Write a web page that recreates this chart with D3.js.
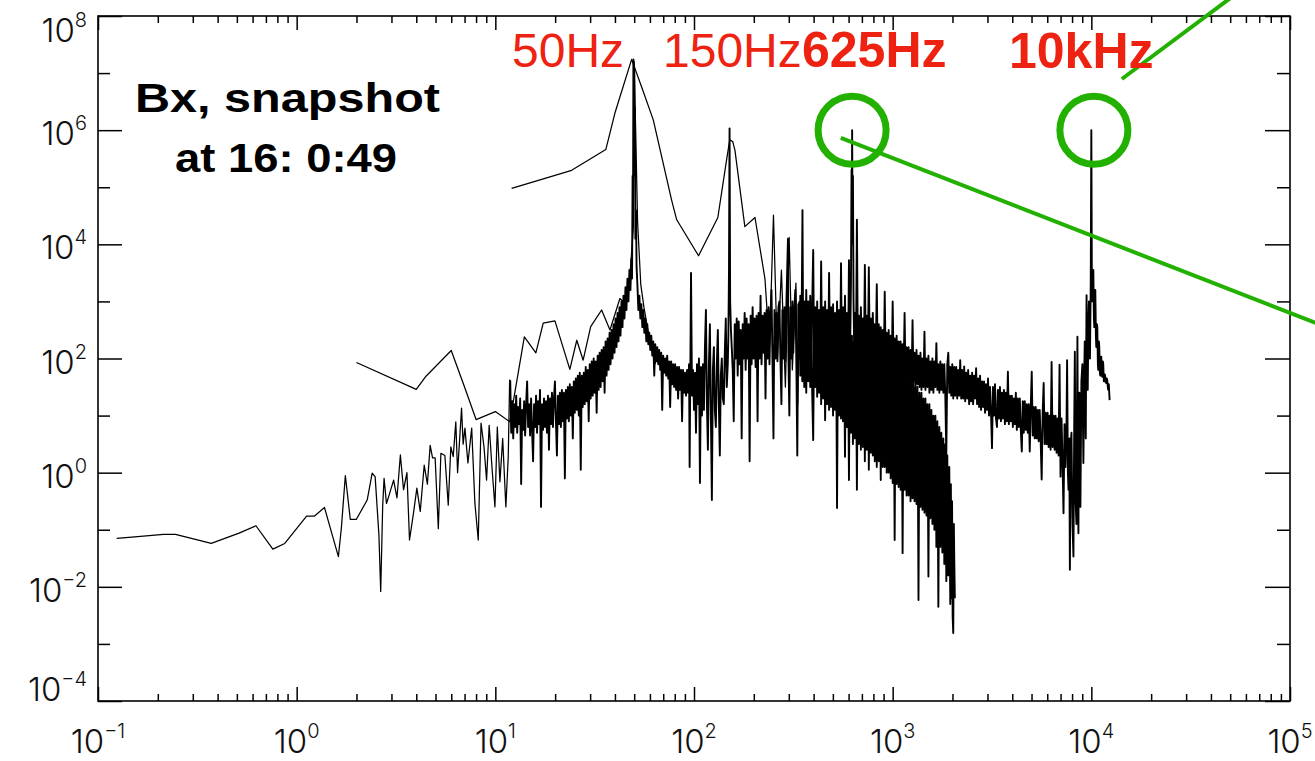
<!DOCTYPE html>
<html>
<head>
<meta charset="utf-8">
<script src="https://cdn.jsdelivr.net/npm/d3@7"></script>
<style>
  html, body { margin: 0; padding: 0; background: #fff; overflow: hidden; }
  svg { display: block; }
</style>
</head>
<body>
<svg id="chart" width="1315" height="761"></svg>
<script>
// ---- axis decades (powers of ten) ----
const freqDecades = [-1, 0, 1, 2, 3, 4, 5];
const powDecadesLabelled = [-4, -2, 0, 2, 4, 6, 8];
const powDecadesMinor = [-3, -1, 1, 3, 5, 7];

// ---- spectra, as [log10 frequency (Hz), log10 power] ----
// full-length record: 0.12 Hz resolution, up to 12.5 kHz
const spectrumFine = [
  [-0.906,-1.15],[-0.83,-1.13],[-0.67,-1.08],[-0.61,-1.08],[-0.43,-1.24],[-0.29,-1.06],[-0.205,-0.93],
  [-0.12,-1.34],[-0.06,-1.24],[0.05,-0.76],[0.09,-0.76],[0.14,-0.61],[0.21,-1.47],[0.225,-0.97],
  [0.245,-0.05],[0.27,-0.82],[0.30,-0.82],[0.355,-0.48],[0.38,-0.01],[0.395,-0.07],[0.414,-1.09],
  [0.423,-2.08],[0.433,-0.58],[0.44,-0.1],[0.452,-0.54],[0.463,-0.42],[0.488,-0.13],[0.505,-0.44],
  [0.522,0.31],[0.538,-0.3],[0.555,0.0],[0.568,-1.18],[0.588,-0.71],[0.605,-0.27],[0.622,-0.68],
  [0.642,0.13],[0.658,-0.2],[0.672,0.48],[0.684,0.26],[0.697,0.26],[0.713,-0.98],[0.726,0.34],
  [0.746,0.3],[0.763,-0.57],[0.776,0.45],[0.788,0.28],[0.801,0.89],[0.81,0.0],[0.83,1.13],
  [0.838,0.5],[0.847,0.78],[0.862,0.17],[0.881,0.78],[0.897,-0.53],[0.914,-1.18],[0.928,0.87],
  [0.943,0.45],[0.956,-0.13],[0.969,0.83],[0.984,0.05],[0.998,-0.6],[1.010,0.8],[1.023,-0.16],
  [1.037,0.6],[1.053,-0.6],[1.065,0.28],[1.072,1.62],
  // densely sampled from here on
  [1.075,1.62],[1.08,0.7],[1.085,1.25],[1.09,0.6],[1.095,1.2],[1.10,0.8],[1.105,1.35],[1.11,0.7],[1.115,1.15],[1.12,0.85],
  [1.125,1.3],[1.13,-0.2],[1.135,1.1],[1.14,0.75],[1.145,1.25],[1.15,0.65],[1.155,1.2],[1.16,1.6],[1.165,0.8],[1.17,1.2],
  [1.175,0.65],[1.18,1.3],[1.185,0.75],[1.19,0.2],[1.195,1.2],[1.20,0.8],[1.205,1.35],[1.21,0.7],[1.215,1.25],[1.22,0.85],
  [1.225,1.45],[1.23,-0.6],[1.235,1.2],[1.24,0.75],[1.245,1.3],[1.25,0.8],[1.255,1.25],[1.26,0.7],[1.265,1.35],[1.27,0.4],
  [1.275,1.3],[1.28,0.85],[1.285,1.4],[1.29,0.8],[1.295,1.3],[1.30,1.6],[1.305,0.9],[1.31,0.3],[1.315,1.35],[1.32,0.85],
  [1.325,1.4],[1.33,0.8],[1.335,1.45],[1.34,0.9],[1.345,1.4],[1.35,-0.1],[1.355,1.45],[1.36,0.95],[1.365,1.5],[1.37,0.9],
  [1.375,1.55],[1.38,1.0],[1.385,1.5],[1.39,0.6],[1.395,1.6],[1.40,1.05],[1.405,1.65],[1.41,1.1],[1.415,1.7],[1.42,1.0],
  [1.425,1.75],[1.43,0.05],[1.435,1.7],[1.44,1.15],[1.445,1.75],[1.45,1.2],[1.455,1.85],[1.46,1.25],[1.465,1.8],[1.47,0.9],
  [1.475,1.9],[1.48,1.3],[1.485,1.95],[1.49,1.35],[1.495,2.0],[1.50,1.4],[1.505,1.95],[1.51,1.05],[1.515,2.05],[1.52,1.45],
  [1.525,2.1],[1.53,1.5],[1.535,2.15],[1.54,1.6],[1.545,2.2],[1.55,1.4],[1.555,2.3],[1.56,1.7],[1.565,2.35],[1.57,1.8],
  [1.575,2.45],[1.58,1.9],[1.585,2.5],[1.59,2.0],[1.595,2.6],[1.60,2.1],[1.605,2.7],[1.61,2.2],[1.615,2.8],[1.62,2.3],
  [1.625,2.9],[1.63,2.4],[1.635,3.0],[1.64,2.55],[1.645,3.1],[1.65,2.7],[1.655,3.25],[1.66,2.85],[1.665,3.4],[1.67,3.0],
  [1.675,3.55],[1.68,3.2],[1.685,3.75],
  [1.688,3.4],[1.691,5.2],[1.693,4.3],[1.695,7.24],[1.697,5.8],[1.699,7.1],[1.701,5.2],[1.703,6.4],[1.705,4.1],[1.708,4.6],[1.711,3.6],
  [1.715,3.3],[1.72,2.85],[1.725,3.1],[1.73,2.7],[1.735,2.95],[1.74,2.55],[1.745,2.85],[1.75,2.45],[1.755,2.7],[1.76,2.3],
  [1.765,2.6],[1.77,2.25],[1.775,2.45],[1.78,2.15],[1.785,2.4],[1.79,2.05],[1.795,2.3],[1.80,1.7],[1.805,2.25],[1.81,1.95],
  [1.815,2.2],[1.82,1.9],[1.825,2.15],[1.83,1.8],[1.835,2.1],[1.84,1.1],[1.845,2.05],[1.85,1.75],[1.855,2.0],[1.86,1.7],
  [1.865,2.05],[1.87,1.65],[1.875,1.95],[1.88,1.15],[1.885,1.95],[1.89,1.55],[1.895,1.9],[1.90,1.5],[1.905,1.9],[1.91,1.45],
  [1.915,1.85],[1.92,1.3],[1.925,1.85],[1.93,1.45],[1.935,1.8],[1.94,0.9],[1.945,1.8],[1.95,1.4],[1.955,1.75],[1.96,1.35],
  [1.965,1.8],[1.97,1.4],[1.975,1.9],[1.978,0.1],[1.985,3.5],[1.99,1.35],[1.995,1.8],[2.00,1.1],[2.005,1.75],[2.01,0.7],
  [2.015,1.9],[2.02,1.2],[2.025,2.0],[2.03,-0.18],[2.035,1.85],[2.04,1.0],[2.045,1.9],[2.05,1.1],[2.055,2.2],[2.06,2.85],
  [2.065,1.2],[2.07,0.4],[2.075,1.9],[2.08,2.6],[2.085,1.0],[2.09,-0.48],[2.095,1.8],[2.10,2.2],[2.105,1.1],[2.11,0.8],
  [2.115,1.9],[2.12,2.5],[2.125,1.2],[2.13,0.3],[2.135,1.7],[2.14,2.0],[2.145,1.3],[2.15,1.2],[2.155,2.1],[2.16,2.7],
  [2.165,1.5],[2.17,1.9],[2.173,2.4],[2.176,3.5],[2.179,6.03],[2.182,3.0],[2.186,2.5],[2.19,2.2],[2.195,1.8],[2.20,0.9],
  [2.205,2.6],[2.21,2.0],[2.215,2.7],[2.22,1.7],[2.225,2.65],[2.23,1.9],[2.235,2.5],[2.24,0.6],[2.245,2.6],[2.25,2.0],
  [2.255,2.8],[2.26,1.8],[2.265,2.7],[2.27,2.0],[2.275,2.6],[2.28,0.2],[2.285,2.75],[2.29,1.9],[2.295,2.9],[2.30,2.0],
  [2.305,2.7],[2.31,1.85],[2.315,2.75],[2.32,0.9],[2.325,2.8],[2.33,2.0],[2.335,3.1],[2.34,1.9],[2.345,2.75],[2.35,2.1],
  [2.355,2.8],[2.36,1.3],[2.365,2.85],[2.37,2.0],[2.375,2.9],[2.38,1.9],[2.385,2.8],[2.39,3.2],[2.395,1.95],[2.40,0.6],
  [2.405,2.85],[2.41,2.0],[2.415,2.8],[2.42,1.95],[2.425,2.9],[2.43,3.0],[2.435,2.0],[2.44,1.2],[2.445,2.85],[2.45,2.0],
  [2.455,2.9],[2.46,1.95],[2.465,2.95],[2.473,4.1],[2.475,2.1],[2.48,1.0],[2.485,2.9],[2.49,2.0],[2.495,3.0],[2.50,2.1],
  [2.505,2.9],[2.51,3.2],[2.515,2.0],[2.52,0.3],[2.525,2.95],[2.53,2.0],
  [2.535,3.1],[2.54,1.9],[2.546,4.6],[2.55,2.0],[2.555,3.0],[2.56,1.9],[2.565,3.2],[2.57,1.7],[2.575,3.0],[2.58,2.0],
  [2.585,3.1],[2.59,1.9],[2.595,2.95],[2.60,3.9],[2.605,1.8],[2.61,2.9],[2.615,1.6],[2.62,3.0],[2.625,1.9],[2.63,2.85],
  [2.635,1.8],[2.64,3.7],[2.645,1.9],[2.65,2.9],[2.655,1.75],[2.66,3.0],[2.665,1.9],[2.67,2.85],[2.675,1.8],[2.68,3.5],
  [2.685,1.9],[2.69,2.9],[2.695,1.7],[2.70,2.95],[2.705,1.85],[2.71,2.8],[2.715,1.8],[2.72,3.0],[2.725,1.75],[2.73,2.85],
  [2.735,1.7],[2.74,3.67],[2.745,1.85],[2.75,2.9],[2.755,1.8],[2.76,3.1],[2.765,1.75],[2.77,2.8],[2.775,1.7],[2.78,3.72],
  [2.785,1.9],[2.790,3.3],[2.793,5.3],[2.794,4.0],[2.796,6.0],[2.798,4.3],[2.800,5.2],[2.803,3.0],[2.807,2.0],
  [2.81,2.8],[2.815,1.9],[2.82,4.43],[2.825,2.0],[2.83,2.75],[2.835,1.9],[2.84,2.9],[2.845,2.0],[2.85,2.7],[2.855,1.9],
  [2.86,3.64],[2.865,2.0],[2.87,2.75],[2.875,1.95],[2.88,3.6],[2.885,1.9],[2.89,2.7],[2.895,2.0],[2.90,2.8],[2.905,1.9],
  [2.91,2.6],[2.915,2.0],[2.92,3.3],[2.925,1.9],[2.93,2.6],[2.935,1.85],[2.94,2.55],[2.945,1.9],[2.95,2.5],[2.955,1.8],
  [2.96,3.17],[2.965,1.9],[2.97,2.45],[2.975,1.8],[2.98,2.5],[2.985,1.75],[2.99,2.4],[2.995,1.7],[3.00,3.0],[3.005,1.8],
  [3.01,2.35],[3.015,1.7],[3.02,2.4],[3.025,1.6],[3.03,2.3],[3.035,1.65],[3.04,2.3],[3.045,1.6],[3.05,2.25],[3.055,1.7],
  [3.06,2.8],[3.065,1.6],[3.07,2.2],[3.075,1.55],[3.08,2.2],[3.085,1.6],[3.09,2.15],[3.095,1.5],[3.10,2.67],[3.105,1.6],
  [3.11,2.1],[3.115,1.5],[3.12,2.15],[3.125,1.55],[3.13,2.05],[3.135,1.5],[3.14,2.1],[3.145,1.45],[3.15,2.0],[3.155,1.5],
  [3.16,2.47],[3.165,1.45],[3.17,2.0],[3.175,1.5],[3.18,2.05],[3.185,1.4],[3.19,1.95],[3.195,1.45],[3.20,2.0],[3.205,1.4],
  [3.21,1.95],[3.215,1.5],[3.22,2.27],[3.225,1.45],[3.23,1.9],[3.235,1.4],[3.24,1.95],[3.245,1.45],[3.25,1.9],[3.255,1.4],
  [3.26,1.9],[3.265,1.35],[3.27,0.3],[3.275,1.9],[3.28,2.1],[3.285,1.4],[3.29,1.85],[3.295,1.35],[3.30,1.9],[3.305,1.3],
  [3.31,1.85],[3.315,1.35],[3.32,1.85],[3.325,1.3],[3.33,1.8],[3.335,1.35],[3.34,1.97],[3.345,1.3],[3.35,1.8],[3.355,1.3],
  [3.36,1.86],[3.365,1.25],[3.37,1.75],[3.375,1.3],[3.38,1.8],[3.385,1.2],[3.39,1.7],[3.395,1.25],[3.40,1.75],[3.405,1.2],
  [3.41,1.7],[3.415,1.3],[3.42,1.83],[3.425,1.2],
  [3.43,1.65],[3.435,1.15],[3.44,1.7],[3.445,1.1],[3.45,1.6],[3.455,1.15],[3.46,1.6],[3.465,1.05],[3.47,1.55],[3.475,1.1],
  [3.48,1.65],[3.485,1.0],[3.49,1.5],[3.495,1.05],[3.50,0.43],[3.505,1.5],[3.51,1.0],[3.515,1.55],[3.52,0.95],[3.525,0.8],
  [3.53,1.45],[3.535,0.95],[3.54,1.5],[3.545,0.9],[3.55,1.4],[3.555,0.95],[3.56,1.45],[3.565,0.85],[3.57,1.4],[3.575,0.9],
  [3.58,1.77],[3.585,0.85],[3.59,1.35],[3.595,0.9],[3.60,1.35],[3.605,0.8],[3.61,1.3],[3.615,0.85],[3.62,1.4],[3.625,0.75],
  [3.63,1.3],[3.635,0.8],[3.64,1.3],[3.645,0.75],[3.65,0.37],[3.655,1.25],[3.66,0.7],[3.665,1.25],[3.67,0.75],[3.675,1.2],
  [3.68,0.7],[3.685,1.2],[3.69,0.37],[3.695,1.15],[3.70,1.77],[3.705,0.65],[3.71,1.15],[3.715,0.6],[3.72,1.15],[3.725,0.6],
  [3.73,1.1],[3.735,0.55],[3.74,1.1],[3.745,0.55],[3.75,-0.12],[3.755,1.05],[3.76,1.57],[3.765,0.5],[3.77,1.05],[3.775,0.5],
  [3.78,1.05],[3.785,0.45],[3.79,1.0],[3.795,0.4],[3.80,1.94],[3.805,0.45],[3.81,1.0],[3.815,0.4],[3.82,1.0],[3.825,0.35],
  [3.83,0.95],[3.835,0.3],[3.84,1.89],[3.845,-0.07],[3.85,0.95],
  [3.855,0.2],[3.86,-0.71],[3.865,0.85],[3.87,0.1],[3.875,0.8],[3.878,1.97],[3.882,0.0],[3.885,-0.3],[3.889,0.6],[3.892,-1.7],
  [3.896,0.5],[3.90,0.7],[3.905,-0.9],[3.91,-1.47],[3.914,0.9],[3.917,2.12],[3.921,-0.5],[3.925,-0.9],[3.928,1.2],[3.93,2.38],
  [3.933,-0.4],[3.935,-1.06],[3.938,1.0],[3.94,1.4],[3.943,0.0],[3.945,-0.6],[3.95,1.6],[3.955,1.9],[3.958,0.8],[3.96,0.17],
  [3.964,1.7],[3.967,2.3],[3.97,1.2],[3.972,0.6],[3.974,2.0],[3.976,3.11],[3.979,1.9],[3.982,1.45],[3.985,2.6],[3.988,3.0],
  [3.991,2.3],[3.993,2.0],[3.997,3.3],[4.000,6.0],[4.003,3.0],[4.006,3.3],[4.010,3.55],[4.013,2.7],[4.015,2.55],[4.018,3.1],
  [4.020,3.2],[4.023,2.4],[4.025,2.2],[4.028,2.6],[4.030,2.55],[4.033,1.9],[4.035,1.8],[4.038,2.3],[4.040,2.2],[4.043,1.75],
  [4.045,1.7],[4.048,2.0],[4.050,2.03],[4.053,1.7],[4.055,1.68],[4.058,1.95],[4.060,1.9],[4.063,1.6],[4.065,1.6],[4.068,1.72],
  [4.070,1.68],[4.073,1.58],[4.075,1.57],[4.078,1.65],[4.080,1.62],[4.083,1.5],[4.085,1.45],[4.088,1.55],[4.092,1.27]
];

// 2 Hz resolution record
const spectrumMid = [
  [0.301,1.93],[0.602,1.46],[0.651,1.69],[0.778,2.14],[0.845,1.5],[0.903,0.93],[1.0,1.07],
  [1.073,0.89],[1.146,2.38],[1.204,2.10],[1.241,2.62],[1.30,2.66],[1.375,1.81],[1.41,2.32],
  [1.442,1.97],[1.48,2.56],[1.535,2.85],[1.577,2.50],[1.627,3.05],[1.652,2.97],[1.677,3.43],
  [1.694,4.25],[1.699,7.2],[1.716,4.4],[1.732,3.3],[1.748,2.9],[1.763,2.6],[1.778,2.3],
  [1.792,2.2],[1.806,1.9]
];

// 12 Hz resolution record, up to 2 kHz
const spectrumCoarse = [
  [1.082,4.98],[1.380,5.29],[1.556,5.66],[1.602,6.3],[1.686,7.24],[1.736,6.76],[1.795,6.18],
  [1.887,4.78],[1.913,4.43],[2.023,3.80],[2.12,4.47],[2.164,5.48],[2.18,5.83],[2.195,5.8],
  [2.206,5.65],[2.256,4.31],[2.307,4.47],[2.357,3.40],[2.38,2.2],[2.40,4.51],[2.42,2.0],
  [2.44,3.55],[2.46,1.5],[2.479,4.12],[2.495,1.8],[2.513,3.32],[2.522,1.2],
  // densely sampled from here on
  [2.53,3.0],[2.535,1.7],[2.54,2.7],[2.545,1.6],[2.55,2.8],[2.555,1.5],[2.56,2.6],[2.565,1.4],[2.57,2.9],[2.575,1.6],
  [2.58,2.7],[2.585,1.5],[2.59,2.7],[2.595,1.4],[2.60,0.57],[2.605,2.6],[2.61,1.5],[2.615,2.8],[2.62,1.33],[2.625,2.6],
  [2.63,1.4],[2.635,2.6],[2.64,1.2],[2.645,2.5],[2.65,1.3],[2.655,2.7],[2.66,0.92],[2.665,2.6],[2.67,1.2],[2.675,2.5],
  [2.68,1.1],[2.685,2.6],[2.69,1.15],[2.695,2.5],[2.70,1.0],[2.705,2.5],[2.71,1.1],[2.715,2.6],[2.72,-0.62],[2.725,2.5],
  [2.73,1.0],[2.735,2.4],[2.74,0.95],[2.745,2.5],[2.75,0.9],[2.755,2.4],[2.76,0.28],[2.765,2.5],[2.77,0.8],[2.775,2.4],
  [2.78,-0.13],[2.785,2.5],[2.79,0.7],[2.795,2.4],[2.80,0.5],[2.805,2.3],[2.81,0.6],[2.815,2.4],[2.82,-0.3],[2.825,2.3],
  [2.83,0.5],[2.835,2.4],[2.84,0.4],[2.845,2.3],[2.85,0.45],[2.855,2.3],[2.86,0.2],[2.865,2.4],[2.87,0.4],[2.875,2.3],
  [2.88,0.05],[2.885,2.2],[2.89,0.35],[2.895,2.3],[2.90,0.3],[2.905,2.2],[2.91,0.2],[2.915,2.3],[2.92,0.1],[2.925,2.2],
  [2.93,0.2],[2.935,2.2],[2.94,-0.13],[2.945,2.1],[2.95,0.1],[2.955,2.2],[2.96,0.1],[2.965,2.1],[2.97,0.0],[2.975,2.2],
  [2.98,0.0],[2.985,2.0],[2.99,-0.1],[2.995,2.0],[3.00,-0.18],[3.005,1.9],[3.01,-1.18],[3.015,1.9],[3.02,-0.2],[3.025,1.9],
  [3.03,-0.25],[3.035,1.8],[3.04,-0.3],[3.045,1.8],[3.05,-1.41],[3.055,1.8],[3.06,-0.3],[3.065,1.7],[3.07,-0.4],[3.075,1.7],
  [3.08,-0.4],[3.085,1.65],[3.09,-0.5],[3.095,1.6],[3.10,-0.45],[3.105,1.6],[3.11,-0.5],[3.115,1.5],[3.12,-0.55],[3.125,1.5],
  [3.13,-2.23],[3.135,1.4],[3.14,-0.6],[3.145,1.4],[3.15,-0.65],[3.155,1.3],[3.16,-0.7],[3.165,1.3],[3.17,-0.75],[3.175,1.2],
  [3.18,-1.82],[3.185,1.2],[3.19,-0.8],[3.195,1.1],[3.20,-0.9],[3.205,1.0],[3.21,-1.0],[3.215,1.0],[3.22,-1.3],[3.225,0.9],
  [3.23,-2.35],[3.235,0.8],[3.24,-1.3],[3.245,0.7],[3.25,-1.4],[3.255,0.6],[3.26,-1.6],[3.265,0.5],[3.27,-1.9],[3.275,0.3],
  [3.28,-1.8],[3.285,0.1],[3.29,-2.3],[3.293,-0.2],[3.296,-2.2],[3.299,-0.5],[3.302,-2.53],[3.305,-2.81],[3.308,-0.9],
  [3.31,-1.5],[3.313,-2.2]
];

// ---- annotations ----
const peakLabels = ["50Hz", "150Hz", "625Hz", "10kHz"];
const peakLabelBold = [false, false, true, true];
const circledPeaks = [[625, 1e6], [10300, 1e6]];            // [Hz, power]
const calloutLines = [                                       // [log10 Hz, log10 power] end points
  [[2.739, 5.863], [5.14, 2.61]],
  [[4.1535, 6.896], [4.76, 8.47]]
];
const titleLines = ["Bx, snapshot", "at 16: 0:49"];

// ---- layout ----
const L = 98, R = 1290, T = 16, B = 701;
const RED = "#ee2211", GREEN = "#22b100";

const svg = d3.select("#chart");
const x = d3.scaleLog().domain([0.1, 1e5]).range([L, R]);
const y = d3.scaleLog().domain([1e-4, 1e8]).range([B, T]);
const px = d => x(Math.pow(10, d[0]));
const py = d => y(Math.pow(10, d[1]));
const line = d3.line().x(px).y(py);

// spectra: thin stroke where samples are sparse, heavier where they pile up densely
function drawSpectrum(s, denseFrom) {
  const i = s.findIndex(d => d[0] >= denseFrom);
  const runs = i < 0 ? [[s, 1.25]] : [[s.slice(0, i + 1), 1.25], [s.slice(i), 1.9]];
  runs.forEach(([pts, w]) => {
    svg.append("path")
      .attr("d", line(pts))
      .attr("fill", "none")
      .attr("stroke", "#000")
      .attr("stroke-width", w)
      .attr("stroke-linejoin", "round");
  });
}
drawSpectrum(spectrumCoarse, 2.53);
drawSpectrum(spectrumMid, Infinity);
drawSpectrum(spectrumFine, 1.075);

// axes: frame + inward ticks on all four sides
const majorFreq = freqDecades.map(e => Math.pow(10, e));
const minorFreq = x.ticks().filter(v => !majorFreq.some(m => Math.abs(m - v) / m < 1e-9));
const majorPow = powDecadesLabelled.map(e => Math.pow(10, e));
const minorPow = powDecadesMinor.map(e => Math.pow(10, e));

function tickLayer(axis, tx, ty) {
  const g = svg.append("g").attr("transform", `translate(${tx},${ty})`).call(axis);
  g.select(".domain").remove();
  g.selectAll("line").attr("stroke", "#000").attr("stroke-width", 1.5);
  g.selectAll("text").remove();
}
tickLayer(d3.axisBottom(x).tickValues(majorFreq).tickSize(-14).tickFormat(""), 0, B);
tickLayer(d3.axisBottom(x).tickValues(minorFreq).tickSize(-7).tickFormat(""), 0, B);
tickLayer(d3.axisTop(x).tickValues(majorFreq).tickSize(-14).tickFormat(""), 0, T);
tickLayer(d3.axisTop(x).tickValues(minorFreq).tickSize(-7).tickFormat(""), 0, T);
tickLayer(d3.axisLeft(y).tickValues(majorPow).tickSize(-24).tickFormat(""), L, 0);
tickLayer(d3.axisLeft(y).tickValues(minorPow).tickSize(-12).tickFormat(""), L, 0);
tickLayer(d3.axisRight(y).tickValues(majorPow).tickSize(-25).tickFormat(""), R, 0);
tickLayer(d3.axisRight(y).tickValues(minorPow).tickSize(-13).tickFormat(""), R, 0);

svg.append("rect")
  .attr("x", L).attr("y", T).attr("width", R - L).attr("height", B - T)
  .attr("fill", "none").attr("stroke", "#000").attr("stroke-width", 1.6);

// tick labels: 10 with superscript exponent
const tickFont = "Inter, 'Open Sans', 'Liberation Sans', sans-serif";
function powerLabel(sel, e) {
  sel.append("tspan").text("10");
  sel.append("tspan").attr("dy", -15).attr("font-size", 20)
    .text(e < 0 ? "\u2212" + (-e) : String(e));
}
freqDecades.forEach(e => {
  const t = svg.append("text")
    .attr("x", x(Math.pow(10, e))).attr("y", 753)
    .attr("text-anchor", "middle")
    .attr("font-family", tickFont).attr("font-weight", 300)
    .attr("font-size", 33).attr("fill", "#111");
  powerLabel(t, e);
});
powDecadesLabelled.forEach(e => {
  const base = Math.max(T + 26, Math.min(B, y(Math.pow(10, e)) + 15));
  const t = svg.append("text")
    .attr("x", 87).attr("y", base)
    .attr("text-anchor", "end")
    .attr("font-family", tickFont).attr("font-weight", 300)
    .attr("font-size", 33).attr("fill", "#111");
  powerLabel(t, e);
});

// callout lines and circles
calloutLines.forEach(seg => {
  svg.append("line")
    .attr("x1", px(seg[0])).attr("y1", py(seg[0]))
    .attr("x2", px(seg[1])).attr("y2", py(seg[1]))
    .attr("stroke", GREEN).attr("stroke-width", 4);
});
svg.selectAll("circle.peak").data(circledPeaks).enter().append("circle")
  .attr("class", "peak")
  .attr("cx", d => x(d[0])).attr("cy", d => y(d[1]))
  .attr("r", 34)
  .attr("fill", "none").attr("stroke", GREEN).attr("stroke-width", 7);

// peak labels
const labelX = [512, 663, 802, 1009];
const labelY = [67, 67, 67, 68];
peakLabels.forEach((s, i) => {
  svg.append("text")
    .attr("x", labelX[i]).attr("y", labelY[i])
    .attr("font-family", "'Liberation Sans', Arial, sans-serif")
    .attr("font-weight", peakLabelBold[i] ? "bold" : "normal")
    .attr("font-size", peakLabelBold[i] ? 50 : 48)
    .attr("fill", RED)
    .text(s);
});

// snapshot caption
const titleY = [111.7, 171.5];
const titleCx = [287.5, 286];
const titleWidth = [305, 222];
titleLines.forEach((s, i) => {
  svg.append("text")
    .attr("x", titleCx[i] - titleWidth[i] / 2).attr("y", titleY[i])
    .attr("font-family", "'Liberation Sans', Arial, sans-serif")
    .attr("font-weight", "bold").attr("font-size", 41)
    .attr("textLength", titleWidth[i]).attr("lengthAdjust", "spacingAndGlyphs")
    .attr("fill", "#000")
    .text(s);
});
</script>
</body>
</html>
